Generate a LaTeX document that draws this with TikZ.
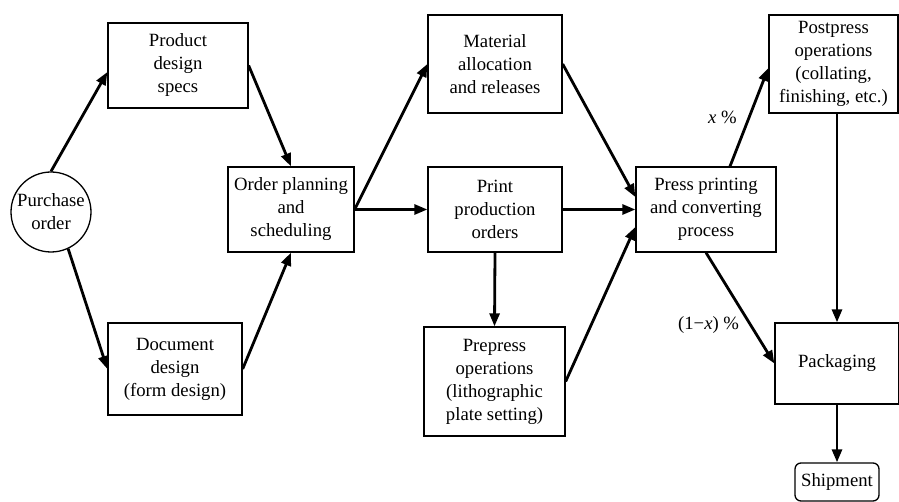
\documentclass[tikz,border=0pt]{standalone}
\usepackage{fontspec}
\setmainfont{Liberation Serif}
\usetikzlibrary{arrows.meta}

\begin{document}
\begin{tikzpicture}[x=1pt,y=-1pt,>={Triangle[length=13pt,width=10pt]},
    box/.style={draw,line width=1.3pt,align=center,inner sep=0pt,
      font=\fontsize{18.7}{23}\selectfont},
    flow/.style={->,line width=2.8pt},
    lbl/.style={font=\fontsize{18.7}{23}\selectfont,inner sep=0pt}]
    \useasboundingbox (0,0) rectangle (899,502);

    \node[box,circle,minimum size=80pt] (po)    at (51,212)    {Purchase\\order};
    \node[box,minimum width=140pt,minimum height=85pt]  (prod)  at (178,65.5)  {Product\\design\\specs};
    \node[box,minimum width=134pt,minimum height=92pt]  (doc)   at (175,369)   {Document\\design\\(form design)};
    \node[box,minimum width=126pt,minimum height=85pt]  (plan)  at (291,209.5) {Order planning\\and\\scheduling};
    \node[box,minimum width=134pt,minimum height=98pt]  (mat)   at (495,64)    {Material\\allocation\\and releases};
    \node[box,minimum width=134pt,minimum height=85pt]  (print) at (495,209.5) {Print\\production\\orders};
    \node[box,minimum width=141pt,minimum height=109pt] (pre)   at (494.5,381.5) {Prepress\\operations\\(lithographic\\plate setting)};
    \node[box,minimum width=140pt,minimum height=85pt]  (press) at (706,209.5) {Press printing\\and converting\\process};
    \node[box,minimum width=129pt,minimum height=98pt]  (post)  at (833.5,64)  {Postpress\\operations\\(collating,\\finishing, etc.)};
    \node[box,minimum width=124pt,minimum height=81pt]  (pack)  at (837,363.5) {Packaging};
    \node[box,rounded corners=6pt,minimum width=84pt,minimum height=38pt] (ship) at (837,482) {Shipment};

    \path[flow] (po.north) edge ([yshift=-6.5pt]prod.west)
                (po.-65)   edge (doc.west)
                (prod.east) edge (plan.north)
                (doc.east)  edge (plan.south)
                (plan.east) edge (mat.west)
                            edge (print.west)
                (print.south) edge (pre.north)
                (print.east)  edge (press.west)
                (mat.east)    edge ([yshift=12.5pt]press.west)
                (pre.east)    edge ([yshift=-17.5pt]press.west)
                ([xshift=24pt]press.north) edge node[lbl,left=11pt] {\textit{x} \%} ([yshift=-4pt]post.west)
                (press.south) edge node[lbl,pos=0.65,left=10pt] {(1−\textit{x}) \%} (pack.west)
                (pack.north |- post.south) edge (pack.north)
                (pack.south) edge (ship.north);
\end{tikzpicture}
\end{document}
